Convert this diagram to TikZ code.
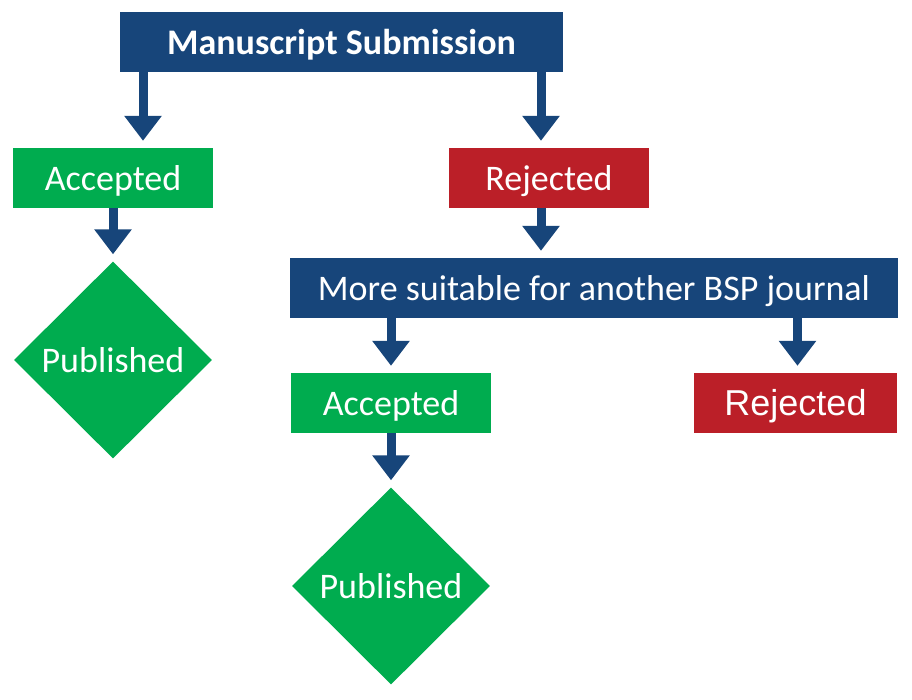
\documentclass[tikz,border=0pt]{standalone}
\usepackage{fontspec}
\setmainfont{Carlito}
\newfontfamily\arialfont{Liberation Sans}
\usetikzlibrary{shapes.geometric}
\usetikzlibrary{arrows.meta}
\definecolor{bspblue}{HTML}{17457A}
\definecolor{bspgreen}{HTML}{00AC4F}
\definecolor{bspred}{HTML}{BB1F28}
\tikzset{
	boxnode/.style = {
		align=center,
		inner sep=0pt,
		text centered,
		text=white,
		font=\fontsize{36}{40}\selectfont,
		text height=24pt,
		text depth=0pt,
		minimum height=60pt
	},
	node_blue/.style = {
		boxnode,
		rectangle,
		fill=bspblue
	},
	node_green/.style = {
		boxnode,
		rectangle,
		fill=bspgreen,
		minimum width=200pt
	},
	node_red/.style = {
		boxnode,
		rectangle,
		fill=bspred,
		minimum width=200pt
	},
	node_pub/.style = {
		boxnode,
		diamond,
		aspect=1,
		fill=bspgreen,
		minimum width=198pt,
		minimum height=197pt
	},
	flow/.style = {
		draw=bspblue,
		line width=9pt,
		-{Triangle[width=36pt,length=25pt]},
		shorten >=7pt
	}
}

\begin{document}
\begin{tikzpicture}[x=1pt,y=-1pt]
\useasboundingbox (0,0) rectangle (912,699);
\node [node_blue, minimum width=443pt, font=\fontsize{36}{40}\selectfont\bfseries] (ms) at (341.5,42) {Manuscript Submission};
\node [node_green] (acc1) at (113,178) {Accepted};
\node [node_red] (rej1) at (549,178) {Rejected};
\node [node_pub] (pub1) at (113,360) {Published};
\node [node_blue, minimum width=608pt] (more) at (594,288) {More suitable for another BSP journal};
\node [node_green] (acc2) at (391,403) {Accepted};
\node [node_red, minimum width=203pt, font=\fontsize{36}{40}\selectfont\arialfont] (rej2) at (795.5,403) {Rejected};
\node [node_pub] (pub2) at (391,586) {Published};
% arrow positions
\coordinate (c1) at ([xshift=30pt]acc1.north);
\coordinate (c2) at ([xshift=-8pt]rej1.north);
\coordinate (c3) at ([xshift=2pt]rej2.north);
\draw [flow] (c1 |- ms.south) -- (c1);
\draw [flow] (c2 |- ms.south) -- (c2);
\draw [flow] (acc1.south) -- (pub1.north);
\draw [flow] (c2 |- rej1.south) -- (c2 |- more.north);
\draw [flow] (acc2.north |- more.south) -- (acc2.north);
\draw [flow] (c3 |- more.south) -- (c3);
\draw [flow] (acc2.south) -- (pub2.north);
\end{tikzpicture}
\end{document}
